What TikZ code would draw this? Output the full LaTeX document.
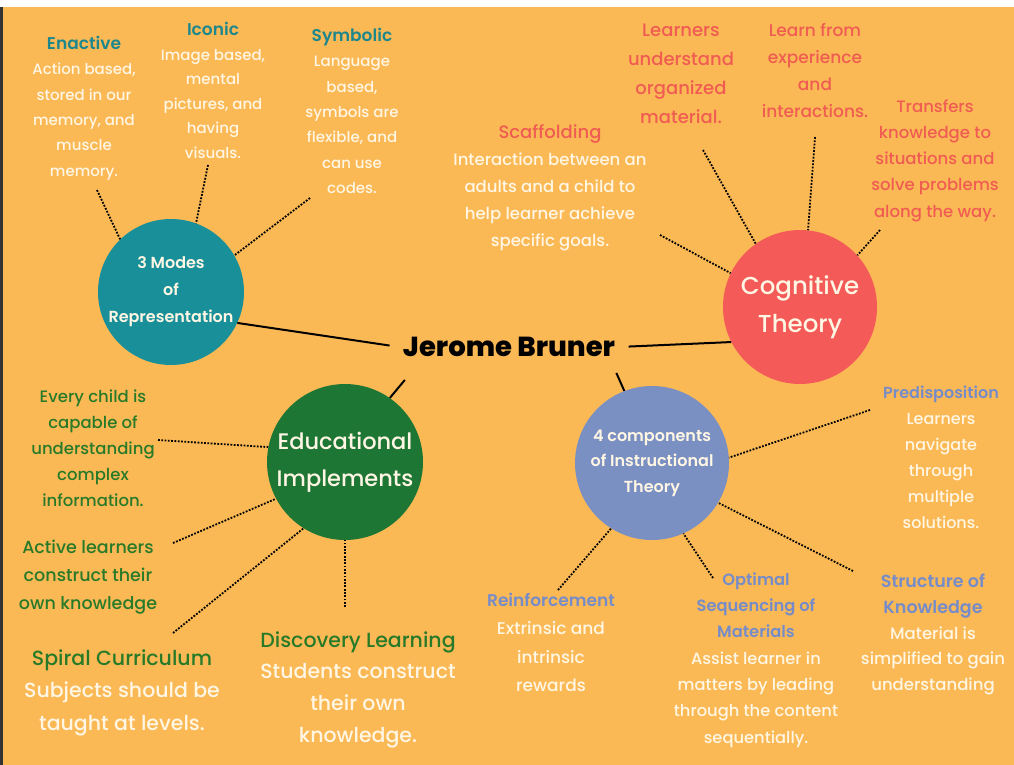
\documentclass[tikz,border=0pt]{standalone}
\usepackage{fontspec}
\setmainfont{Poppins Medium}[BoldFont={Poppins SemiBold}]
\newfontfamily\titlefont{Poppins ExtraBold}
\usetikzlibrary{positioning}
\usepackage{xcolor}

\definecolor{bgorange}{RGB}{251,185,86}
\definecolor{tealc}{RGB}{24,143,153}
\definecolor{redc}{RGB}{243,90,88}
\definecolor{greenc}{RGB}{30,118,52}
\definecolor{bluec}{RGB}{122,143,194}
\definecolor{cream}{RGB}{255,246,228}
\definecolor{tealtxt}{RGB}{30,135,140}
\definecolor{redtxt}{RGB}{240,92,82}
\definecolor{greentxt}{RGB}{40,122,40}
\definecolor{bluetxt}{RGB}{118,140,200}

\newcommand{\fsz}[2]{\fontsize{#1}{#2}\selectfont}
\newcommand{\headtxt}[2]{{\color{#1}\bfseries #2}}

\begin{document}
\begin{tikzpicture}[x=1pt, y=-1pt]
    \tikzstyle{hub} = [circle, inner sep=0pt]
    \tikzstyle{hubtext} = [align=center, text=cream, inner sep=0pt]
    \tikzstyle{note} = [align=center, text=cream, inner sep=0pt]
    \tikzstyle{link} = [draw=black, line width=2pt]
    \tikzstyle{dotline} = [draw=black, line width=1.8pt, dash pattern=on 1.8pt off 1.5pt]

    % Tło
    \useasboundingbox (0,0) rectangle (1014,765);
    \fill[bgorange] (0,0) rectangle (1014,765);
    \fill[white] (0,0) rectangle (1014,7);
    \fill[black!80] (0,7) rectangle (2.5,765);

    % Węzły główne
    \node[font=\fsz{27.5}{30}\titlefont] (title) at (509,347) {Jerome Bruner};
    \node[hub, fill=tealc, minimum size=146pt,
          label={[hubtext, font=\fsz{16}{27}\bfseries]center:{3 Modes\\of\\Representation}}] (modes) at (171,292) {};
    \node[hub, fill=redc, minimum size=154pt,
          label={[hubtext, font=\fsz{24.5}{38}]center:{Cognitive\\Theory}}] (cog) at (800,307) {};
    \node[hub, fill=greenc, minimum size=156pt,
          label={[hubtext, font=\fsz{22.5}{37}]center:{Educational\\Implements}}] (edu) at (345,462) {};
    \node[hub, fill=bluec, minimum size=154pt,
          label={[hubtext, font=\fsz{16}{25.5}\bfseries]center:{4 components\\of Instructional\\Theory}}] (comp) at (652,463) {};

    % Teksty
    \node[note, font=\fsz{15}{25.4}] (enactive) at (84,108)
        {\headtxt{tealtxt}{\fsz{17}{25.4}Enactive}\\Action based,\\stored in our\\memory, and\\muscle\\memory.};
    \node[note, font=\fsz{15}{24.6}] (iconic) at (213,90.5)
        {\headtxt{tealtxt}{\fsz{17}{24.6}Iconic}\\Image based,\\mental\\pictures, and\\having\\visuals.};
    \node[note, font=\fsz{15}{25.3}] (symbolic) at (352,111)
        {\headtxt{tealtxt}{\fsz{17}{25.3}Symbolic}\\Language\\based,\\symbols are\\flexible, and\\can use\\codes.};
    \node[note, text=redtxt, font=\fsz{18}{29}] (learners) at (681,74)
        {Learners\\understand\\organized\\material.};
    \node[note, text=redtxt, font=\fsz{17}{27}] (learnfrom) at (815,70.5)
        {Learn from\\experience\\and\\interactions.};
    \node[note, text=redtxt, font=\fsz{16.5}{26.2}] (transfers) at (935,160.5)
        {Transfers\\knowledge to\\situations and\\solve problems\\along the way.};
    \node[note, font=\fsz{16.5}{27}] (scaffold) at (550,188)
        {\headtxt{redtxt}{\mdseries\fsz{18}{27}Scaffolding}\\Interaction between an\\adults and a child to\\help learner achieve\\specific goals.};
    \node[note, font=\fsz{16}{26}] (predis) at (941,457)
        {\headtxt{bluetxt}{Predisposition}\\Learners\\navigate\\through\\multiple\\solutions.};
    \node[note, font=\fsz{16.5}{25.8}] (structure) at (933,634.5)
        {\headtxt{bluetxt}{\fsz{17.5}{25.8}Structure of}\\\headtxt{bluetxt}{\fsz{17.5}{25.8}Knowledge}\\Material is\\simplified to gain\\understanding};
    \node[note, font=\fsz{16.3}{26.3}] (optimal) at (756,660)
        {\headtxt{bluetxt}{Optimal}\\\headtxt{bluetxt}{Sequencing of}\\\headtxt{bluetxt}{Materials}\\Assist learner in\\matters by leading\\through the content\\sequentially.};
    \node[note, font=\fsz{17}{28.3}] (reinf) at (551,642.5)
        {\headtxt{bluetxt}{Reinforcement}\\Extrinsic and\\intrinsic\\rewards};
    \node[note, font=\fsz{20.5}{31.7}] (discovery) at (358,689.5)
        {\headtxt{greentxt}{\mdseries Discovery Learning}\\Students construct\\their own\\knowledge.};
    \node[note, font=\fsz{20.5}{32.5}] (spiral) at (122,692.5)
        {\headtxt{greentxt}{\mdseries Spiral Curriculum}\\Subjects should be\\taught at levels.};
    \node[note, text=greentxt, font=\fsz{17.5}{28}] (active) at (88,577)
        {Active learners\\construct their\\own knowledge};
    \node[note, text=greentxt, font=\fsz{16.5}{26}] (everychild) at (93,448)
        {Every child is\\capable of\\understanding\\complex\\information.};

    % Wolne końce
    \coordinate (enactiveend) at (97,190);
    \coordinate (iconicend) at (208,165);
    \coordinate (symbolicend) at (310,198);
    \coordinate (learnersend) at (703,150);
    \coordinate (learnfromend) at (815,137);
    \coordinate (transfersend) at (880,230);
    \coordinate (scaffoldend) at (660,235);
    \coordinate (predisend) at (870,410);
    \coordinate (structureend) at (853,571);
    \coordinate (optimalend) at (713,578);
    \coordinate (reinfend) at (558,590);
    \coordinate (discoveryend) at (345,607);
    \coordinate (spiralend) at (173,633);
    \coordinate (activeend) at (173,543);
    \coordinate (everychildend) at (158,440);

    % Połączenia
    \draw[link, shorten >=10pt] (modes.-25) -- (title.west);
    \draw[link, shorten <=10pt] (title.east) -- (cog.207);
    \draw[link] (edu.55) -- ++(15,-18);
    \draw[link] (comp.111) -- ++(-8,-18);

    \draw[dotline] (enactiveend) -- (modes.134);
    \draw[dotline] (iconicend) -- (modes.70);
    \draw[dotline] (symbolicend) -- (modes.30);
    \draw[dotline] (learnersend) -- (cog.125);
    \draw[dotline] (learnfromend) -- (cog.84);
    \draw[dotline] (transfersend) -- (cog.42);
    \draw[dotline] (scaffoldend) -- (cog.154);
    \draw[dotline] (predisend) -- (comp.4);
    \draw[dotline] (structureend) -- (comp.-31);
    \draw[dotline] (optimalend) -- (comp.-66);
    \draw[dotline] (reinfend) -- (comp.-122);
    \draw[dotline] (discoveryend) -- (edu.270);
    \draw[dotline] (spiralend) -- (edu.238);
    \draw[dotline] (activeend) -- (edu.208);
    \draw[dotline] (everychildend) -- (edu.169);
\end{tikzpicture}
\end{document}
